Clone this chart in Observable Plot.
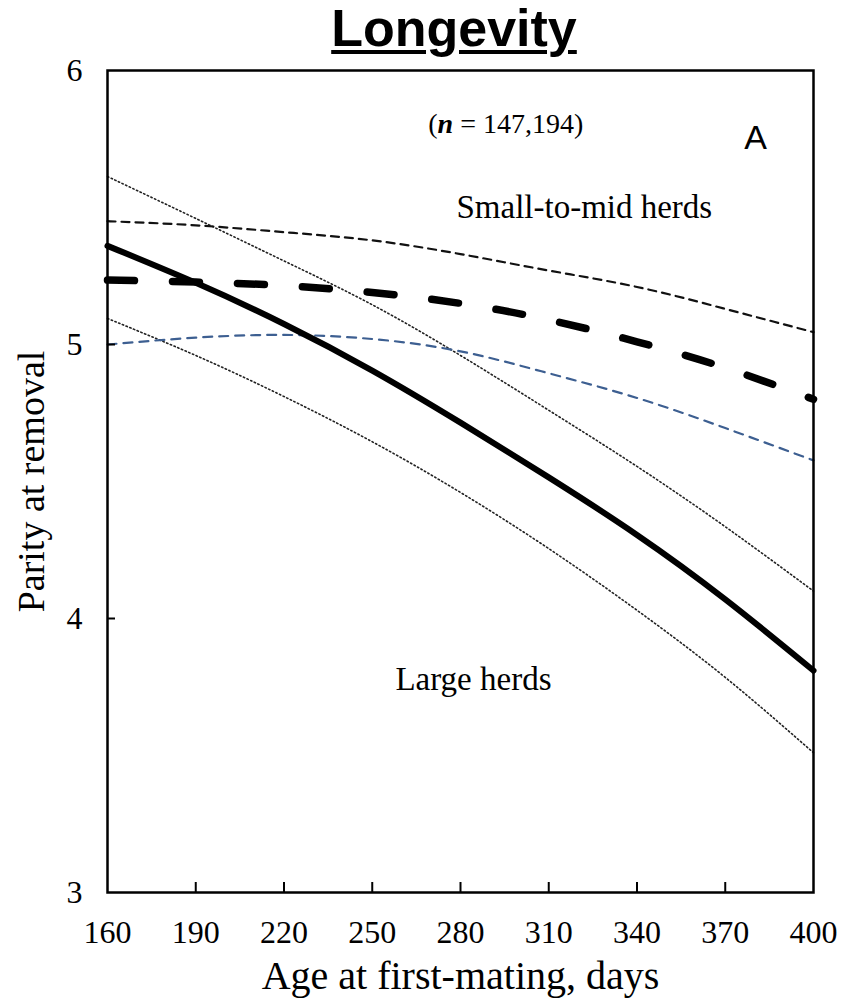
<!DOCTYPE html>
<html><head><meta charset="utf-8">
<script src="https://cdn.jsdelivr.net/npm/d3@7"></script>
<script src="https://cdn.jsdelivr.net/npm/@observablehq/plot@0.6"></script>
<style>
body{margin:0;background:#fff;}
#title{width:843px;height:56px;box-sizing:border-box;padding-left:65px;text-align:center;
font:bold 52px/56px "Liberation Sans",Arial,sans-serif;color:#000;
text-decoration:underline;text-decoration-thickness:4px;text-underline-offset:4px;}
</style></head><body>
<div id="title">Longevity</div>
<div id="chart"></div>
<script>
// Age at first mating (days)
const days = [160, 190, 220, 250, 280, 310, 340, 370, 400];
// Large herds: fitted curve and confidence bounds
const largeFit   = [5.36, 5.225, 5.075, 4.905, 4.715, 4.515, 4.305, 4.07, 3.81];
const largeUpper = [5.613, 5.46, 5.305, 5.145, 4.96, 4.76, 4.555, 4.335, 4.10];
const largeLower = [5.095, 4.96, 4.81, 4.645, 4.46, 4.255, 4.03, 3.785, 3.51];
// Small-to-mid herds: fitted curve and confidence bounds
const smallFit   = [5.235, 5.228, 5.215, 5.19, 5.15, 5.09, 5.01, 4.915, 4.80];
const smallUpper = [5.45, 5.435, 5.41, 5.38, 5.33, 5.27, 5.21, 5.13, 5.045];
const smallLower = [5.00, 5.025, 5.035, 5.02, 4.975, 4.895, 4.805, 4.695, 4.577];
// Tick labels
const xTicks = [160, 190, 220, 250, 280, 310, 340, 370, 400];
const yTicks = [3, 4, 5, 6];
const xLabel = "Age at first-mating, days";
const yLabel = "Parity at removal";
// Annotations (data coordinates)
const nNote = {label: "(n = 147,194)", day: 295.4, value: 5.803};
const herdNotes = [
  {label: "Small-to-mid herds", day: 322.1, value: 5.502},
  {label: "Large herds", day: 284.4, value: 3.776}
];
const panelNote = {label: "A", day: 380.3, value: 5.755};

const rows = arr => days.map((d, i) => ({day: d, value: arr[i]}));

const W = 843, H = 943, mL = 107, mR = 30, mT = 14, mB = 107;
const innerW = W - mL - mR, innerH = H - mT - mB;
const curve = "natural";

const chart = Plot.plot({
  width: W, height: H,
  marginLeft: mL, marginRight: mR, marginTop: mT, marginBottom: mB,
  style: {fontFamily: "'Liberation Serif', 'Times New Roman', serif", color: "#000", background: "#fff", overflow: "visible"},
  x: {domain: [160, 400]},
  y: {domain: [3, 6]},
  marks: [
    Plot.line(rows(largeUpper), {x: "day", y: "value", stroke: "#222", strokeWidth: 1.6, strokeDasharray: "1.4,2.6", curve}),
    Plot.line(rows(largeLower), {x: "day", y: "value", stroke: "#222", strokeWidth: 1.6, strokeDasharray: "1.4,2.6", curve}),
    Plot.line(rows(smallUpper), {x: "day", y: "value", stroke: "#111", strokeWidth: 2.2, strokeDasharray: "8,6", curve}),
    Plot.line(rows(smallLower), {x: "day", y: "value", stroke: "#3d5f91", strokeWidth: 2.2, strokeDasharray: "9,7", curve}),
    Plot.line(rows(largeFit), {x: "day", y: "value", stroke: "#000", strokeWidth: 6, curve}),
    Plot.line(rows(smallFit), {x: "day", y: "value", stroke: "#000", strokeWidth: 7.5, strokeDasharray: "27,38", strokeLinecap: "round", curve}),
    Plot.frame({stroke: "#000", strokeWidth: 2.5}),
    Plot.ruleX(xTicks.slice(1, -1), {x: d => d, insetTop: innerH - 10, stroke: "#000", strokeWidth: 2}),
    Plot.ruleY(yTicks.slice(1, -1), {y: d => d, insetRight: innerW - 8, stroke: "#000", strokeWidth: 2}),
    Plot.axisX(xTicks, {anchor: "bottom", tickSize: 0, tickPadding: 28, fontSize: 32, label: null, tickFormat: d => String(d)}),
    Plot.axisY(yTicks, {anchor: "left", tickSize: 0, tickPadding: 25, fontSize: 32, label: null, tickFormat: d => String(d)}),
    Plot.text([xLabel], {text: d => d, frameAnchor: "bottom", lineAnchor: "top", textAnchor: "middle", dy: 68, fontSize: 40}),
    Plot.text([yLabel], {text: d => d, frameAnchor: "left", textAnchor: "middle", lineAnchor: "middle", rotate: -90, dx: -76, fontSize: 38}),
    Plot.text([nNote], {x: "day", y: "value", text: "label", fontSize: 28}),
    Plot.text(herdNotes, {x: "day", y: "value", text: "label", fontSize: 33}),
    Plot.text([panelNote], {x: "day", y: "value", text: "label", fontSize: 34, fontFamily: "'Liberation Sans', Arial, sans-serif"})
  ]
});

chart.querySelectorAll("text").forEach(t => {
  if (t.textContent === nNote.label) {
    while (t.firstChild) t.removeChild(t.firstChild);
    const ns = "http://www.w3.org/2000/svg";
    const a = document.createElementNS(ns, "tspan"); a.textContent = "(";
    const b = document.createElementNS(ns, "tspan"); b.textContent = "n";
    b.setAttribute("font-style", "italic"); b.setAttribute("font-weight", "bold");
    const c = document.createElementNS(ns, "tspan"); c.textContent = " = 147,194)";
    t.append(a, b, c);
  }
});

document.getElementById("chart").appendChild(chart);
</script></body></html>
